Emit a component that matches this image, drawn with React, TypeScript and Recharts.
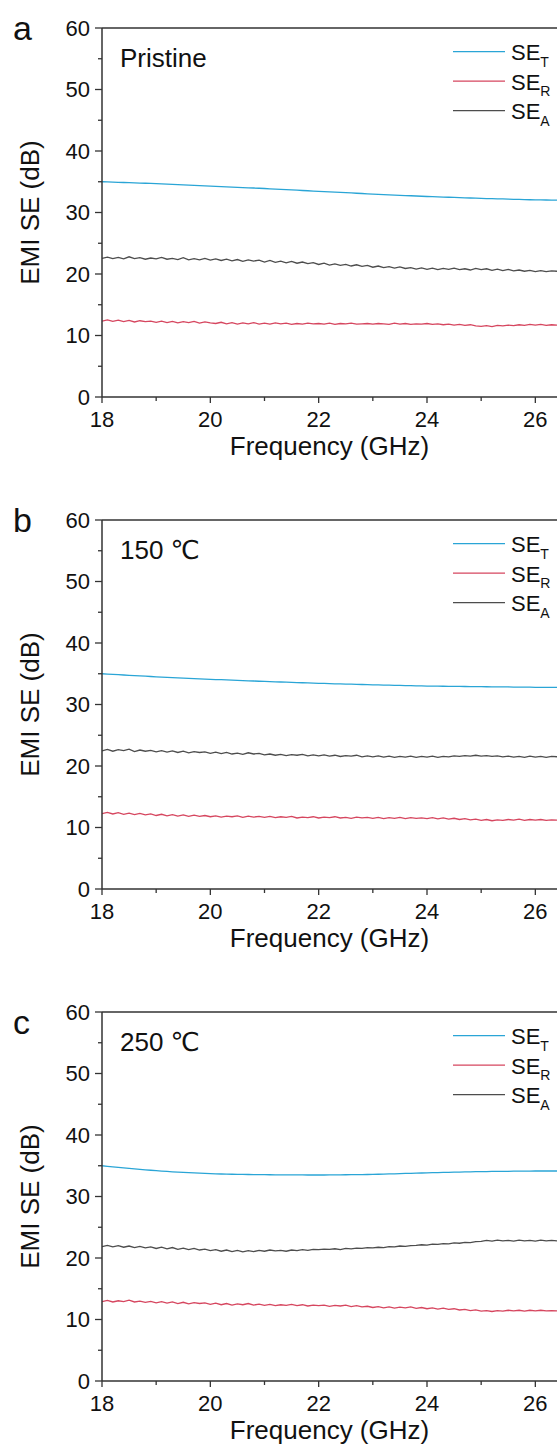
import { LineChart, Line, XAxis, YAxis, Legend, ReferenceLine } from "recharts";

// frequency sweep, GHz
const freq = [
  18.0, 18.1, 18.2, 18.3, 18.4, 18.5, 18.6, 18.7, 18.8, 18.9,
  19.0, 19.1, 19.2, 19.3, 19.4, 19.5, 19.6, 19.7, 19.8, 19.9,
  20.0, 20.1, 20.2, 20.3, 20.4, 20.5, 20.6, 20.7, 20.8, 20.9,
  21.0, 21.1, 21.2, 21.3, 21.4, 21.5, 21.6, 21.7, 21.8, 21.9,
  22.0, 22.1, 22.2, 22.3, 22.4, 22.5, 22.6, 22.7, 22.8, 22.9,
  23.0, 23.1, 23.2, 23.3, 23.4, 23.5, 23.6, 23.7, 23.8, 23.9,
  24.0, 24.1, 24.2, 24.3, 24.4, 24.5, 24.6, 24.7, 24.8, 24.9,
  25.0, 25.1, 25.2, 25.3, 25.4, 25.5, 25.6, 25.7, 25.8, 25.9,
  26.0, 26.1, 26.2, 26.3, 26.4,
];

// (a) Pristine
const pristineT = [
  35.0, 34.97, 34.94, 34.91, 34.88, 34.85, 34.82, 34.79, 34.76, 34.73,
  34.7, 34.66, 34.62, 34.58, 34.54, 34.5, 34.46, 34.42, 34.38, 34.34,
  34.3, 34.26, 34.22, 34.18, 34.14, 34.1, 34.06, 34.02, 33.98, 33.94,
  33.9, 33.85, 33.81, 33.76, 33.72, 33.67, 33.63, 33.58, 33.54, 33.49,
  33.45, 33.4, 33.36, 33.31, 33.27, 33.22, 33.18, 33.13, 33.09, 33.04,
  33.0, 32.96, 32.92, 32.88, 32.84, 32.8, 32.76, 32.72, 32.68, 32.64,
  32.6, 32.57, 32.54, 32.51, 32.48, 32.45, 32.42, 32.39, 32.36, 32.33,
  32.3, 32.27, 32.25, 32.22, 32.2, 32.17, 32.15, 32.12, 32.1, 32.07,
  32.05, 32.04, 32.03, 32.02, 32.01,
];
const pristineR = [
  12.35, 12.55, 12.3, 12.5, 12.25, 12.45, 12.2, 12.4, 12.25, 12.35,
  12.15, 12.35, 12.1, 12.3, 12.05, 12.25, 12.1, 12.3, 12.0, 12.2,
  12.05, 11.95, 12.15, 11.9, 12.1, 11.85, 12.05, 11.9, 12.1, 11.85,
  12.0, 11.85, 12.05, 11.9, 12.0, 11.8, 11.95, 11.85, 12.0, 11.9,
  11.95, 11.85, 12.0, 11.8, 11.95, 11.9, 12.0, 11.85, 11.9, 11.95,
  11.85, 11.95, 11.9, 11.8, 12.0, 11.85, 11.95, 11.8, 11.9, 11.85,
  11.95, 11.8, 11.9, 11.75, 11.85, 11.7, 11.8, 11.65, 11.75, 11.55,
  11.5, 11.6, 11.45, 11.65, 11.55, 11.7, 11.6, 11.75, 11.65, 11.8,
  11.7, 11.8, 11.65, 11.75, 11.7,
];
const pristineA = [
  22.55, 22.75, 22.5, 22.7, 22.45, 22.8, 22.5, 22.65, 22.4, 22.6,
  22.45, 22.7, 22.4, 22.55, 22.35, 22.65, 22.3, 22.5, 22.3, 22.55,
  22.25, 22.45, 22.2, 22.4, 22.15, 22.35, 22.05, 22.3, 22.1, 22.25,
  21.95, 22.2, 21.9, 22.1, 21.8, 22.05, 21.75, 21.95, 21.7, 21.85,
  21.55, 21.75, 21.45, 21.65, 21.4, 21.55, 21.3, 21.5, 21.25, 21.4,
  21.1, 21.3, 21.05, 21.2, 20.95, 21.15, 20.9, 21.05, 20.8, 21.0,
  20.75, 20.95, 20.7, 20.9, 20.75, 20.95, 20.7, 20.85, 20.65, 20.9,
  20.7, 20.85, 20.6, 20.8, 20.55, 20.75, 20.5, 20.65, 20.45, 20.6,
  20.4, 20.55, 20.4, 20.5, 20.45,
];

// (b) 150 °C
const c150T = [
  35.0, 34.95, 34.9, 34.85, 34.8, 34.75, 34.7, 34.65, 34.6, 34.55,
  34.5, 34.46, 34.42, 34.38, 34.34, 34.3, 34.26, 34.22, 34.18, 34.14,
  34.1, 34.06, 34.03, 33.99, 33.96, 33.92, 33.89, 33.85, 33.82, 33.78,
  33.75, 33.72, 33.69, 33.66, 33.63, 33.6, 33.57, 33.54, 33.51, 33.48,
  33.45, 33.42, 33.4, 33.37, 33.35, 33.32, 33.3, 33.27, 33.25, 33.22,
  33.2, 33.18, 33.16, 33.14, 33.12, 33.1, 33.08, 33.06, 33.04, 33.02,
  33.0, 32.99, 32.98, 32.97, 32.96, 32.95, 32.94, 32.93, 32.92, 32.91,
  32.9, 32.89, 32.88, 32.87, 32.86, 32.85, 32.84, 32.83, 32.82, 32.81,
  32.8, 32.8, 32.79, 32.79, 32.78,
];
const c150R = [
  12.25, 12.45, 12.2, 12.4, 12.15, 12.35, 12.1, 12.3, 12.05, 12.2,
  11.95, 12.15, 11.9, 12.1, 11.85, 12.05, 11.8, 12.0, 11.8, 11.95,
  11.75, 11.9, 11.7, 11.85, 11.75, 11.9, 11.65, 11.85, 11.7, 11.8,
  11.65, 11.8, 11.6, 11.75, 11.65, 11.8, 11.55, 11.7, 11.6, 11.75,
  11.55, 11.7, 11.6, 11.75, 11.55, 11.65, 11.5, 11.7, 11.55, 11.65,
  11.5, 11.65, 11.45, 11.6, 11.5, 11.65, 11.45, 11.6, 11.5, 11.55,
  11.45, 11.6, 11.4, 11.55, 11.35, 11.5, 11.3, 11.45, 11.25, 11.35,
  11.15, 11.3, 11.1, 11.25, 11.15, 11.3, 11.2, 11.35, 11.15, 11.3,
  11.2, 11.3, 11.15, 11.25, 11.2,
];
const c150A = [
  22.45, 22.7, 22.4, 22.65, 22.5, 22.75, 22.35, 22.6, 22.4, 22.55,
  22.3, 22.5, 22.25, 22.45, 22.2, 22.4, 22.15, 22.35, 22.2, 22.3,
  22.05, 22.25, 22.0, 22.2, 21.95, 22.1, 21.9, 22.15, 21.95, 22.05,
  21.8, 21.95, 21.75, 21.9, 21.7, 21.85, 21.75, 21.9, 21.65, 21.8,
  21.65, 21.8, 21.6, 21.75, 21.55, 21.7, 21.6, 21.75, 21.5, 21.65,
  21.5, 21.65, 21.45, 21.6, 21.4, 21.55, 21.45, 21.6, 21.4, 21.55,
  21.45, 21.6, 21.4, 21.55, 21.5, 21.65, 21.55, 21.7, 21.6, 21.75,
  21.6, 21.7, 21.55, 21.65, 21.5, 21.6, 21.45, 21.55, 21.4, 21.6,
  21.45, 21.55, 21.4, 21.55, 21.5,
];

// (c) 250 °C
const c250T = [
  35.0, 34.91, 34.82, 34.73, 34.65, 34.57, 34.49, 34.41, 34.34, 34.27,
  34.2, 34.14, 34.08, 34.02, 33.97, 33.92, 33.87, 33.83, 33.79, 33.75,
  33.71, 33.68, 33.66, 33.64, 33.62, 33.6, 33.59, 33.58, 33.57, 33.56,
  33.55, 33.54, 33.53, 33.52, 33.52, 33.51, 33.51, 33.5, 33.5, 33.5,
  33.5, 33.5, 33.51, 33.52, 33.53, 33.54, 33.55, 33.56, 33.57, 33.58,
  33.6, 33.62, 33.64, 33.67, 33.69, 33.72, 33.75, 33.77, 33.8, 33.82,
  33.85, 33.87, 33.89, 33.91, 33.93, 33.95, 33.97, 33.99, 34.01, 34.03,
  34.05, 34.06, 34.07, 34.08, 34.09, 34.1, 34.11, 34.12, 34.13, 34.14,
  34.15, 34.15, 34.15, 34.16, 34.15,
];
const c250R = [
  12.9, 13.1, 12.85, 13.05, 12.9, 13.15, 12.85, 13.0, 12.8, 12.95,
  12.7, 12.9, 12.65, 12.85, 12.6, 12.8, 12.55, 12.75, 12.6, 12.7,
  12.45, 12.65, 12.4, 12.6, 12.35, 12.55, 12.4, 12.6, 12.35, 12.5,
  12.3, 12.45, 12.25, 12.4, 12.3, 12.45, 12.25, 12.4, 12.2, 12.35,
  12.25, 12.35, 12.15, 12.3, 12.2, 12.35, 12.1, 12.25, 12.05, 12.15,
  11.95, 12.1, 11.9, 12.05, 11.85, 12.0, 11.9, 12.05, 11.8, 11.95,
  11.75, 11.9, 11.7, 11.85, 11.65, 11.75, 11.55, 11.65, 11.45, 11.55,
  11.35, 11.45, 11.3, 11.45, 11.35, 11.5, 11.4, 11.5, 11.35, 11.5,
  11.4, 11.5, 11.4, 11.45, 11.4,
];
const c250A = [
  21.85, 22.05, 21.8, 22.0, 21.75, 21.95, 21.7, 21.9, 21.65, 21.8,
  21.55, 21.75, 21.5, 21.7, 21.4, 21.6, 21.35, 21.55, 21.3, 21.45,
  21.2, 21.35, 21.1, 21.3, 21.05, 21.25, 21.0, 21.2, 21.05, 21.25,
  21.1, 21.3, 21.15, 21.25, 21.1, 21.3, 21.2, 21.35, 21.25, 21.4,
  21.35, 21.45, 21.4, 21.5, 21.35, 21.55, 21.5, 21.6, 21.55, 21.7,
  21.65, 21.75, 21.7, 21.85, 21.8, 21.95, 21.9, 22.0, 22.05, 22.15,
  22.1, 22.25, 22.2, 22.35, 22.3, 22.45, 22.4, 22.55, 22.5, 22.65,
  22.7, 22.85, 22.75, 22.9, 22.8, 22.85, 22.75, 22.9, 22.8, 22.85,
  22.75, 22.9, 22.8, 22.85, 22.8,
];

const xTicks = [18, 19, 20, 21, 22, 23, 24, 25, 26];
const xLabels = [18, 20, 22, 24, 26];
const yTicks = [0, 5, 10, 15, 20, 25, 30, 35, 40, 45, 50, 55, 60];
const yLabels = [0, 10, 20, 30, 40, 50, 60];

const series = [
  { key: "t", sub: "T", color: "#2aa5d6" },
  { key: "r", sub: "R", color: "#d6465f" },
  { key: "a", sub: "A", color: "#4d4d4d" },
];

const panels = [
  { letter: "a", letterDy: 9, title: "Pristine", t: pristineT, r: pristineR, a: pristineA },
  { letter: "b", letterDy: 9, title: "150 ℃", t: c150T, r: c150R, a: c150A },
  { letter: "c", letterDy: 19, title: "250 ℃", t: c250T, r: c250R, a: c250A },
];

const AXIS = "#333";
const INK = "#111";

function YTick({ x, y, payload }: any) {
  const major = yLabels.includes(payload.value);
  const len = major ? 7 : 4;
  return (
    <g>
      <line x1={x - len} x2={x} y1={y} y2={y} stroke={AXIS} strokeWidth={1.3} />
      {major && (
        <text x={x - 12} y={y} dy="0.36em" textAnchor="end" fontSize={22} fill={INK}>
          {payload.value}
        </text>
      )}
    </g>
  );
}

function XTick({ x, y, payload }: any) {
  const major = xLabels.includes(payload.value);
  const len = major ? 6 : 4;
  return (
    <g>
      <line x1={x} x2={x} y1={y} y2={y + len} stroke={AXIS} strokeWidth={1.3} />
      {major && (
        <text x={x} y={y + 30} textAnchor="middle" fontSize={22} fill={INK}>
          {payload.value}
        </text>
      )}
    </g>
  );
}

function SeLegend({ payload }: any) {
  const items = series.map((s) => (payload || []).find((p: any) => p.dataKey === s.key) || { color: s.color });
  return (
    <svg width={104} height={100} style={{ display: "block" }}>
      {series.map((s, i) => {
        const y = 23.7 + i * 29.5;
        return (
          <g key={s.key}>
            <line x1={0} x2={52} y1={y} y2={y} stroke={items[i].color} strokeWidth={1.3} />
            <text x={58} y={y + 8.3} fontSize={22} fill={INK}>
              SE
              <tspan fontSize={14} dy={6.5}>
                {s.sub}
              </tspan>
            </text>
          </g>
        );
      })}
    </svg>
  );
}

function Panel({ panel }: any) {
  const rows = freq.map((f, i) => ({ f, t: panel.t[i], r: panel.r[i], a: panel.a[i] }));
  return (
    <div style={{ position: "relative", width: 557, height: 492 }}>
      <LineChart width={557} height={492} data={rows} margin={{ top: 28, right: 0, left: 32, bottom: 15 }}>
        <XAxis
          dataKey="f"
          type="number"
          domain={[18, 26.4]}
          allowDataOverflow
          ticks={xTicks}
          interval={0}
          height={80}
          tickLine={false}
          tickSize={0}
          tickMargin={0}
          tick={<XTick />}
          axisLine={{ stroke: AXIS, strokeWidth: 1.5 }}
          label={({ viewBox }: any) => (
            <text
              x={viewBox.x + viewBox.width / 2}
              y={viewBox.y + 58}
              textAnchor="middle"
              fontSize={26}
              fill={INK}
            >
              Frequency (GHz)
            </text>
          )}
        />
        <YAxis
          type="number"
          domain={[0, 60]}
          ticks={yTicks}
          interval={0}
          width={70}
          tickLine={false}
          tickSize={0}
          tickMargin={0}
          tick={<YTick />}
          axisLine={{ stroke: AXIS, strokeWidth: 1.5 }}
          label={({ viewBox }: any) => {
            const cx = 30;
            const cy = viewBox.y + viewBox.height / 2;
            return (
              <text
                x={cx}
                y={cy}
                transform={`rotate(-90 ${cx} ${cy})`}
                textAnchor="middle"
                dominantBaseline="central"
                fontSize={26}
                fill={INK}
              >
                EMI SE (dB)
              </text>
            );
          }}
        />
        <ReferenceLine y={60} stroke={AXIS} strokeWidth={1.5} />
        {series.map((s) => (
          <Line
            key={s.key}
            dataKey={s.key}
            name={"SE" + s.sub}
            stroke={s.color}
            strokeWidth={1.3}
            dot={false}
            activeDot={false}
            isAnimationActive={false}
          />
        ))}
        <Legend
          layout="vertical"
          align="center"
          verticalAlign="middle"
          content={<SeLegend />}
          wrapperStyle={{ left: 453, top: 28, width: 104, height: 100 }}
        />
      </LineChart>
      <div
        style={{
          position: "absolute",
          left: 13,
          top: 28 + panel.letterDy - 25,
          fontSize: 34,
          lineHeight: "32px",
          color: INK,
          pointerEvents: "none",
        }}
      >
        {panel.letter}
      </div>
      <div
        style={{
          position: "absolute",
          left: 120,
          top: 43,
          fontSize: 26,
          lineHeight: "30px",
          color: INK,
          pointerEvents: "none",
        }}
      >
        {panel.title}
      </div>
    </div>
  );
}

export default function App() {
  return (
    <div
      style={{
        position: "absolute",
        left: 0,
        top: 0,
        width: 557,
        height: 1448,
        overflow: "hidden",
        background: "#fff",
        fontFamily: "'Liberation Sans', Arial, 'DejaVu Sans', sans-serif",
      }}
    >
      {panels.map((p) => (
        <Panel key={p.letter} panel={p} />
      ))}
    </div>
  );
}
